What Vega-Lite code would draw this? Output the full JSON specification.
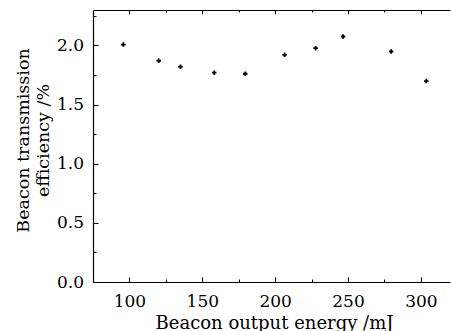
{
  "$schema": "https://vega.github.io/schema/vega-lite/v6.json",
  "width": 357,
  "height": 272,
  "autosize": "none",
  "padding": {"left": 93, "top": 10, "right": 2, "bottom": 49},
  "config": {
    "font": "DejaVu Serif",
    "view": {"stroke": null},
    "axis": {
      "domainColor": "black",
      "domainWidth": 1.2,
      "tickColor": "black",
      "tickWidth": 1,
      "grid": false,
      "labelColor": "black",
      "titleColor": "black",
      "labelFontSize": 17,
      "titleFontSize": 17.5,
      "titleFontWeight": "normal",
      "labelFont": "DejaVu Serif",
      "titleFont": "DejaVu Serif"
    }
  },
  "data": {
    "values": [
      {"energy": 95.8, "eff": 2.008},
      {"energy": 120.1, "eff": 1.871},
      {"energy": 135.0, "eff": 1.82},
      {"energy": 158.2, "eff": 1.77},
      {"energy": 179.5, "eff": 1.761},
      {"energy": 206.5, "eff": 1.921},
      {"energy": 227.8, "eff": 1.977},
      {"energy": 246.6, "eff": 2.076},
      {"energy": 279.6, "eff": 1.949},
      {"energy": 303.7, "eff": 1.699}
    ]
  },
  "layer": [
    {
      "mark": {"type": "point", "shape": "cross", "filled": true, "color": "black", "size": 20, "opacity": 1},
      "encoding": {
        "x": {
          "field": "energy", "type": "quantitative",
          "scale": {"domain": [75, 320], "nice": false, "zero": false},
          "axis": {
            "orient": "bottom",
            "title": "Beacon output energy /mJ",
            "titleFontSize": 18,
            "values": [100, 125, 150, 175, 200, 225, 250, 275, 300],
            "labelExpr": "datum.value % 50 === 0 ? datum.label : ''",
            "tickSize": {"condition": {"test": "datum.value % 50 === 0", "value": -5}, "value": -3},
            "labelBaseline": "alphabetic",
            "labelPadding": 29,
            "titleBaseline": "alphabetic",
            "titleY": 46,
            "titleX": 181,
            "labelFlush": false
          }
        },
        "y": {
          "field": "eff", "type": "quantitative",
          "scale": {"domain": [0, 2.3], "nice": false},
          "axis": {
            "title": ["Beacon transmission", "efficiency /%"],
            "titleLineHeight": 20,
            "titleY": 130,
            "values": [0, 0.25, 0.5, 0.75, 1, 1.25, 1.5, 1.75, 2, 2.25],
            "format": ".1f",
            "labelExpr": "datum.value % 0.5 === 0 ? datum.label : ''",
            "tickSize": {"condition": {"test": "datum.value % 0.5 === 0", "value": -5}, "value": -3},
            "labelPadding": 14.5,
            "titlePadding": 4,
            "labelFlush": false
          }
        }
      }
    },
    {
      "mark": {"type": "point", "opacity": 0},
      "encoding": {
        "x": {
          "field": "energy", "type": "quantitative",
          "axis": {
            "orient": "top",
            "title": null,
            "labels": false,
            "values": [100, 125, 150, 175, 200, 225, 250, 275, 300],
            "tickSize": {"condition": {"test": "datum.value % 50 === 0", "value": -4}, "value": -2}
          }
        }
      }
    }
  ],
  "resolve": {"axis": {"x": "independent"}}
}
